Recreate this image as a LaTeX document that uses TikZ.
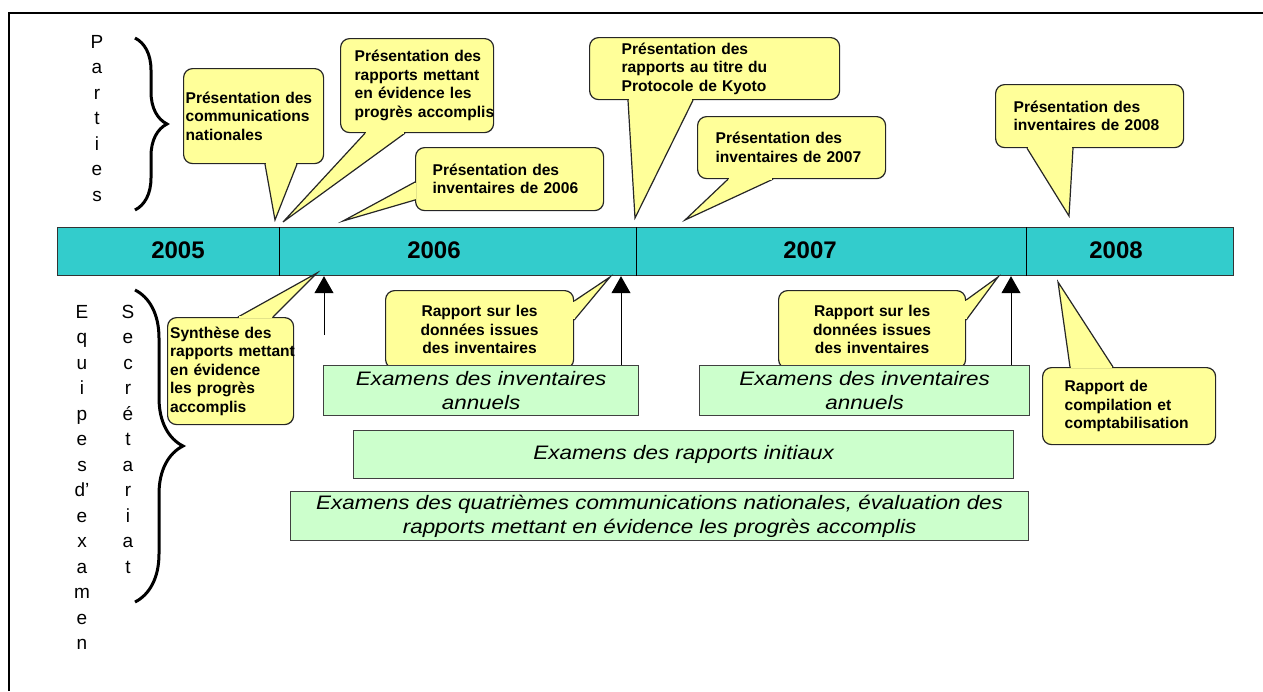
\documentclass[tikz,border=0pt]{standalone}
\usepackage{fontspec}
\setmainfont{Liberation Sans}
\newfontfamily\widefont[FakeStretch=1.15]{Liberation Sans}
\usetikzlibrary{arrows.meta,decorations.pathreplacing}

\definecolor{barcyan}{HTML}{33CCCC}
\definecolor{bubbleyellow}{HTML}{FFFF99}
\definecolor{reviewgreen}{HTML}{CCFFCC}
\definecolor{boxgray}{HTML}{404040}

% callout tail: base point, tip, base point
\newcommand{\tail}[3]{%
  \filldraw[tail] (#1) -- (#2) -- (#3);
  \draw[tailgap] (#1) -- (#3);
}

\begin{document}
\begin{tikzpicture}[x=1pt, y=-1pt]
  \tikzstyle{bubble}=[draw=black!85, fill=bubbleyellow, line width=1.2pt, rounded corners=9pt,
                      anchor=north west, inner sep=0pt, align=left,
                      font=\fontsize{15.6}{18.5}\selectfont\bfseries]
  \tikzstyle{tail}=[draw=black!85, fill=bubbleyellow, line width=1.2pt]
  \tikzstyle{tailgap}=[draw=bubbleyellow, line width=2pt, shorten <=0.8pt, shorten >=0.8pt]
  \tikzstyle{review}=[draw=boxgray, fill=reviewgreen, line width=1.2pt, anchor=north west,
                      inner sep=0pt, align=center,
                      font=\widefont\itshape\fontsize{19.5}{24}\selectfont]
  \tikzstyle{year}=[font=\fontsize{24}{24}\selectfont\bfseries]
  \tikzstyle{column}=[anchor=north, inner sep=0pt, align=center, font=\fontsize{19}{25.5}\selectfont]
  \tikzstyle{bigbrace}=[decorate, line width=3pt]
  \tikzstyle{uparrow}=[line width=1pt, -{Triangle[width=19pt,length=17pt]}]

  \useasboundingbox (0,0) rectangle (1263,691);
  \draw[line width=2pt] (9,691) -- (9,13) -- (1263,13);

  % time line
  \node[draw=black!80, fill=barcyan, line width=1.2pt, minimum width=1176, minimum height=48,
        anchor=north west, inner sep=0pt] (bar) at (57,227) {};
  \foreach \x in {279,636,1026}
    \draw[line width=1pt] (\x,0 |- bar.north) -- (\x,0 |- bar.south);
  \node[year] (y2005) at (178,250) {2005};
  \node[year] (y2006) at (434,250) {2006};
  \node[year] (y2007) at (810,250) {2007};
  \node[year] (y2008) at (1116,250) {2008};

  % left labels
  \node[column] (parties) at (97,35) {P\\a\\r\\t\\i\\e\\s};
  \node[column] (equipes) at (82,305) {E\\q\\u\\i\\p\\e\\s\\d’\\e\\x\\a\\m\\e\\n};
  \node[column] (secret) at (128,305) {S\\e\\c\\r\\é\\t\\a\\r\\i\\a\\t};
  \draw[bigbrace, decoration={brace, amplitude=32pt}] (135,38) -- (135,210);
  \draw[bigbrace, decoration={brace, amplitude=48pt}] (135,290) -- (135,602);

  % submissions by the Parties
  \coordinate (t1) at (275,220);
  \coordinate (t2) at (283,222);
  \coordinate (t3) at (343,221);
  \coordinate (t4) at (635,218);
  \coordinate (t5) at (685,220);
  \coordinate (t6) at (1069,216);
  \node[bubble, minimum width=140, minimum height=95, text width=136] (b1) at (183,68)
    {Présentation des\\communications\\nationales};
  \tail{265,0 |- b1.south}{t1}{297,0 |- b1.south}
  \node[bubble, minimum width=153, minimum height=94, text width=125] (b2) at (340,38)
    {\mbox{Présentation des}\\rapports mettant\\en évidence les\\\mbox{progrès accomplis}};
  \tail{365,0 |- b2.south}{t2}{405,0 |- b2.south}
  \node[bubble, minimum width=188, minimum height=63, text width=154] (b3) at (415,147)
    {Présentation des\\inventaires de 2006};
  \tail{b3.west |- 0,182}{t3}{b3.west |- 0,200}
  \node[bubble, minimum width=250, minimum height=62, text width=186] (b4) at (589,37)
    {Présentation des\\rapports au titre du\\Protocole de Kyoto};
  \tail{628,0 |- b4.south}{t4}{693,0 |- b4.south}
  \node[bubble, minimum width=188, minimum height=62, text width=152] (b5) at (697,116)
    {Présentation des\\inventaires de 2007};
  \tail{728,0 |- b5.south}{t5}{773,0 |- b5.south}
  \node[bubble, minimum width=188, minimum height=63, text width=152] (b6) at (995,84)
    {Présentation des\\inventaires de 2008};
  \tail{1027,0 |- b6.south}{t6}{1073,0 |- b6.south}

  % secretariat
  \coordinate (t7) at (317,273);
  \coordinate (t8) at (610,277);
  \coordinate (t9) at (998,277);
  \coordinate (t10) at (1058,282);
  \node[bubble, minimum width=126, minimum height=107, text width=121] (b7) at (167,317)
    {Synthèse des\\\mbox{rapports mettant}\\en évidence\\les progrès\\accomplis};
  \tail{238,0 |- b7.north}{t7}{273,0 |- b7.north}
  \node[bubble, align=center, minimum width=188, minimum height=78, text width=170] (b8) at (385,290)
    {Rapport sur les\\données issues\\des inventaires};
  \tail{b8.east |- 0,301}{t8}{b8.east |- 0,320}
  \node[bubble, align=center, minimum width=187, minimum height=78, text width=170] (b9) at (778,290)
    {Rapport sur les\\données issues\\des inventaires};
  \tail{b9.east |- 0,300}{t9}{b9.east |- 0,320}
  \node[bubble, minimum width=173, minimum height=77, text width=129] (b10) at (1042,367)
    {Rapport de\\compilation et\\comptabilisation};
  \tail{1070,0 |- b10.north}{t10}{1113,0 |- b10.north}

  % expert review teams
  \node[review, minimum width=315, minimum height=50] (exA) at (323,365)
    {Examens des inventaires\\annuels};
  \node[review, minimum width=330, minimum height=50] (exB) at (699,365)
    {Examens des inventaires\\annuels};
  \node[review, minimum width=660, minimum height=48] (exC) at (353,430)
    {Examens des rapports initiaux};
  \node[review, minimum width=738, minimum height=49] (exD) at (290,491)
    {Examens des quatrièmes communications nationales, évaluation des\\rapports mettant en évidence les progrès accomplis};

  \coordinate (a1) at (324,335);
  \draw[uparrow] (a1) -- (a1 |- bar.south);
  \draw[uparrow] (621,0 |- exA.north) -- (621,0 |- bar.south);
  \draw[uparrow] (1011,0 |- exB.north) -- (1011,0 |- bar.south);
\end{tikzpicture}
\end{document}
